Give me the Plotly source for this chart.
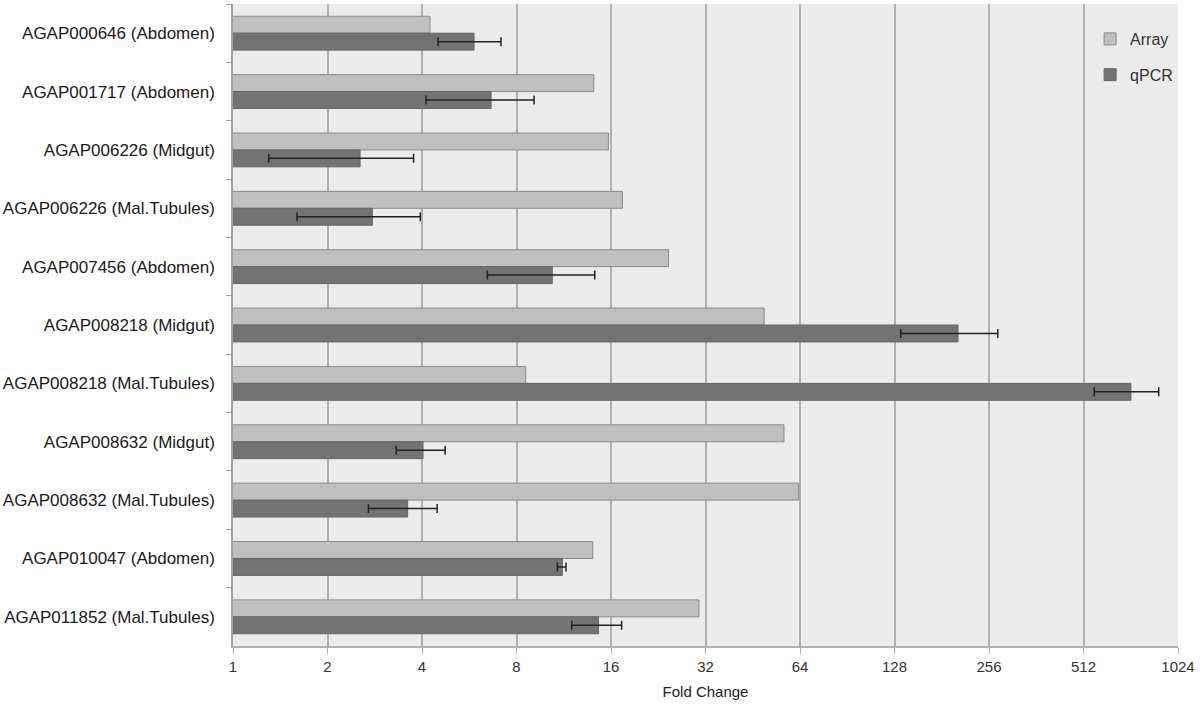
import plotly.graph_objects as go

categories = [
    "AGAP000646 (Abdomen)", "AGAP001717 (Abdomen)", "AGAP006226 (Midgut)",
    "AGAP006226 (Mal.Tubules)", "AGAP007456 (Abdomen)", "AGAP008218 (Midgut)",
    "AGAP008218 (Mal.Tubules)", "AGAP008632 (Midgut)", "AGAP008632 (Mal.Tubules)",
    "AGAP010047 (Abdomen)", "AGAP011852 (Mal.Tubules)",
]
array_fc = [4.24, 14.1, 15.7, 17.4, 24.4, 49.2, 8.56, 56.9, 63.4, 14.0, 30.5]
qpcr_fc = [5.86, 6.64, 2.54, 2.78, 10.4, 204, 725, 4.03, 3.6, 11.2, 14.6]
qpcr_low = [4.5, 4.12, 1.30, 1.60, 6.46, 134, 554, 3.31, 2.70, 10.8, 12.0]
qpcr_high = [7.14, 9.1, 3.76, 3.95, 14.2, 273, 889, 4.74, 4.47, 11.5, 17.3]
tick_vals = [1, 2, 4, 8, 16, 32, 64, 128, 256, 512, 1024]

font = "Liberation Sans, Arial, sans-serif"

fig = go.Figure()
fig.add_trace(go.Bar(
    y=categories, x=array_fc, name="Array", orientation="h",
    marker=dict(color="#c0c0c0", line=dict(color="#8a8a8a", width=1)),
    legendgroup="a",
))
fig.add_trace(go.Bar(
    y=categories, x=qpcr_fc, name="qPCR", orientation="h",
    marker=dict(color="#737373", line=dict(color="#666666", width=1)),
    error_x=dict(type="data", symmetric=False,
                 array=[h - v for h, v in zip(qpcr_high, qpcr_fc)],
                 arrayminus=[v - l for v, l in zip(qpcr_fc, qpcr_low)],
                 color="#222222", thickness=1.5, width=4.5),
    legendgroup="b",
))

fig.update_layout(
    width=1200, height=709,
    barmode="group", bargap=0.42, bargroupgap=0,
    margin=dict(l=233, r=22, t=4, b=63),
    paper_bgcolor="white", plot_bgcolor="#ececec",
    font=dict(family=font, color="#222222"),
    showlegend=True,
    legend=dict(x=0.907, y=0.972, xanchor="left", yanchor="top",
                bgcolor="rgba(0,0,0,0)", font=dict(size=16, color="#333333"),
                traceorder="grouped", tracegroupgap=12),
)
fig.update_xaxes(
    type="log", range=[0, 3.0103],
    tickvals=tick_vals, ticktext=[str(v) for v in tick_vals],
    showgrid=True, gridcolor="#b0b0b0", gridwidth=1.5,
    showline=True, linecolor="#b0b0b0", linewidth=1.5,
    ticks="outside", ticklen=6, tickcolor="#b0b0b0",
    tickfont=dict(size=15, color="#333333"),
    title=dict(text="Fold Change", font=dict(size=15, color="#222222"), standoff=13),
    zeroline=False,
)
fig.update_yaxes(
    type="category", autorange="reversed",
    showgrid=False, showline=True, linecolor="#a0a0a0", linewidth=1.5,
    ticks="outside", tickson="boundaries", ticklen=5, tickcolor="#a0a0a0",
    tickfont=dict(size=17, color="#1a1a1a"),
    ticklabelstandoff=13,
)

fig.write_html("out.html", config={"displayModeBar": False},
               post_script="document.body.style.margin='0px';")
